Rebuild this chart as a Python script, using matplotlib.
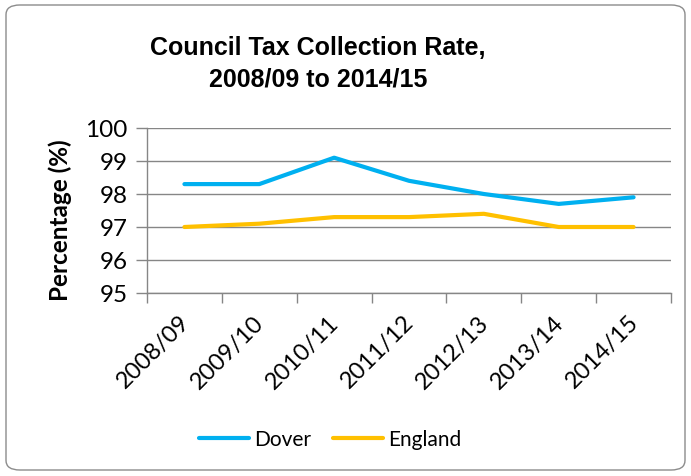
import matplotlib
matplotlib.use("Agg")
import matplotlib.pyplot as plt
from matplotlib.patches import FancyBboxPatch
from matplotlib.transforms import ScaledTranslation

years = ["2008/09", "2009/10", "2010/11", "2011/12", "2012/13", "2013/14", "2014/15"]
dover = [98.3, 98.3, 99.1, 98.4, 98.0, 97.7, 97.9]
england = [97.0, 97.1, 97.3, 97.3, 97.4, 97.0, 97.0]
yticks = [95, 96, 97, 98, 99, 100]

W, H = 691, 477
fig = plt.figure(figsize=(W/100, H/100), dpi=100)

border = FancyBboxPatch((6/W, 6/H), (W-12)/W, (H-12)/H,
                        boxstyle="round,pad=0,rounding_size=0.02",
                        transform=fig.transFigure, fill=False,
                        edgecolor="#8c8c8c", linewidth=1.0)
fig.patches.append(border)

ax = fig.add_axes([147/W, 1-294/H, (671-147)/W, (294-129)/H])
x = list(range(len(years)))
ax.plot(x, dover, color="#00b0f0", lw=3.0, solid_capstyle="round", solid_joinstyle="round", label="Dover")
ax.plot(x, england, color="#ffc000", lw=3.0, solid_capstyle="round", solid_joinstyle="round", label="England")

ax.set_xlim(-0.5, len(years)-0.5)
ax.set_ylim(95, 100)
ax.set_yticks(yticks)
ax.set_yticklabels([str(v) for v in yticks], fontsize=17.5, family="Lato")
ax.set_xticks([i - 0.5 for i in range(len(years)+1)], minor=False)
ax.set_xticklabels([""]*(len(years)+1))
ax.set_xticks(x, minor=True)
ax.set_xticklabels(years, minor=True, rotation=45, ha="right", rotation_mode="anchor",
                   fontsize=17, family="Lato")
ax.tick_params(axis="x", which="minor", length=0, pad=13)
ax.tick_params(axis="x", which="major", length=7, color="#868686", width=1)
ax.tick_params(axis="y", length=8, color="#868686", width=1, pad=6)
shift = ScaledTranslation(-6/100, 0, fig.dpi_scale_trans)
for lbl in ax.get_xticklabels(minor=True):
    lbl.set_transform(lbl.get_transform() + shift)

ax.grid(axis="y", color="#868686", lw=1)
ax.set_axisbelow(True)
for s in ["top", "right"]:
    ax.spines[s].set_visible(False)
for s in ["left", "bottom"]:
    ax.spines[s].set_color("#868686")
    ax.spines[s].set_linewidth(1)

fig.text(60/W, 1-220/H, "Percentage (%)", rotation=90, ha="center", va="center",
         fontsize=17.5, fontweight="bold", family="Lato")
fig.text(318/W, 1-64/H, "Council Tax Collection Rate,\n2008/09 to 2014/15", ha="center", va="center",
         fontsize=18, fontweight="bold", family="Liberation Sans", linespacing=1.4)

leg = fig.legend(loc="center", bbox_to_anchor=(330/W, 1-440/H), ncol=2, frameon=False,
                 prop={"family": "Lato", "size": 15}, handlelength=2.4, handletextpad=0.25,
                 columnspacing=1.05)

fig.savefig("out.png", dpi=100)
